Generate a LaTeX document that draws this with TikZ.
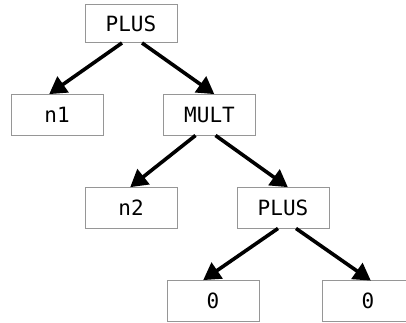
\documentclass[tikz,border=0pt]{standalone}
\usepackage{fontspec}
\setmonofont{DejaVu Sans Mono}
\usetikzlibrary{arrows.meta}
\definecolor{boxline}{RGB}{150,150,150}
\tikzset{
  treenode/.style={draw=boxline, line width=0.9pt, fill=white, rectangle,
    minimum width=92pt, minimum height=41pt, inner sep=0pt,
    font=\ttfamily\fontsize{21}{23}\selectfont},
  edge/.style={line width=3.6pt, -{Triangle[length=17pt,width=19pt]}, shorten >=-1pt}
}
\begin{document}
\begin{tikzpicture}[x=1pt,y=-1pt]
  \useasboundingbox (0,0) rectangle (406,322);
  \begin{scope}
    \clip (0,0) rectangle (406,322);
    % expression tree nodes
    \node[treenode, minimum height=38pt] (p1) at (131,23.5) {PLUS};
    \node[treenode] (n1)   at (57,114.5)  {n1};
    \node[treenode] (mult) at (209.5,114.5) {MULT};
    \node[treenode] (n2)   at (131,207.5) {n2};
    \node[treenode] (p2)   at (283,207.5) {PLUS};
    \node[treenode] (z1)   at (213,300.5) {0};
    \node[treenode] (z2)   at (368,301)   {0};
    % parent-to-child edges
    \draw[edge] ([xshift=-9pt]p1.south)   -- ([xshift=-7pt]n1.north);
    \draw[edge] ([xshift=11pt]p1.south)   -- ([xshift=4pt]mult.north);
    \draw[edge] ([xshift=-14pt]mult.south) -- ([xshift=0pt]n2.north);
    \draw[edge] ([xshift=6pt]mult.south)  -- ([xshift=4pt]p2.north);
    \draw[edge] ([xshift=-5pt]p2.south)   -- ([xshift=-9pt]z1.north);
    \draw[edge] ([xshift=13pt]p2.south)   -- ([xshift=2pt]z2.north);
  \end{scope}
\end{tikzpicture}
\end{document}
